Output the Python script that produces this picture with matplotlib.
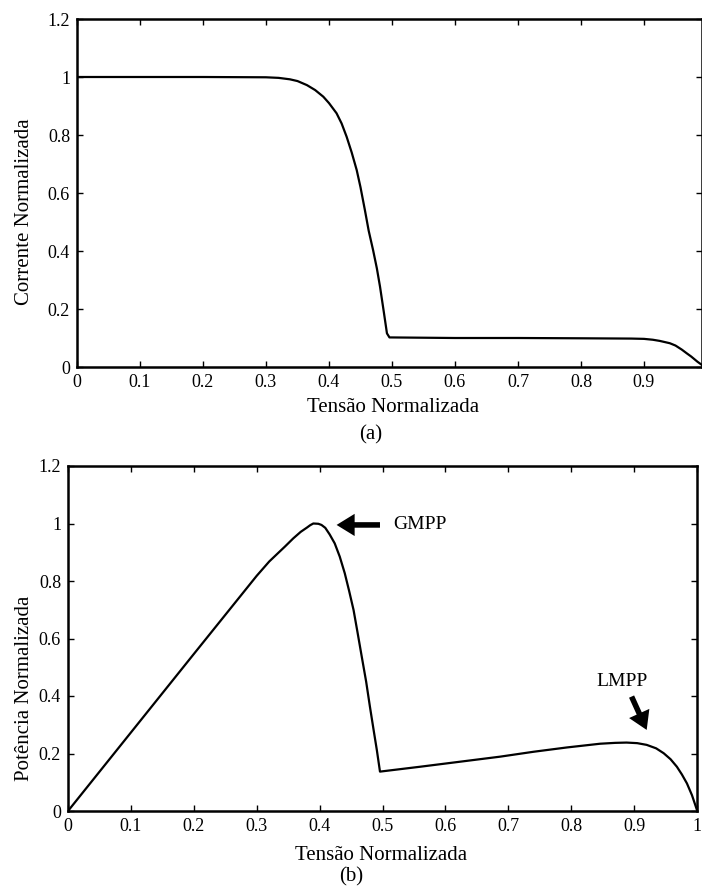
import matplotlib
matplotlib.use('Agg')
import matplotlib.pyplot as plt

plt.rcParams['font.family'] = ['Liberation Serif', 'DejaVu Serif']

# (a) corrente x tensao
tensao_a = [0, 0.1, 0.2, 0.3, 0.32, 0.338, 0.35, 0.365, 0.378, 0.391, 0.40,
            0.412, 0.42, 0.428, 0.436, 0.444, 0.45, 0.457, 0.463, 0.470, 0.476,
            0.481, 0.487, 0.492, 0.496, 0.6, 0.7, 0.8, 0.88, 0.9, 0.914, 0.925,
            0.941, 0.95, 0.96, 0.968, 0.975, 0.985, 0.992, 1.0]
corrente = [1.0, 1.0, 1.0, 0.999, 0.997, 0.992, 0.986, 0.972, 0.955, 0.932, 0.91,
            0.875, 0.84, 0.794, 0.74, 0.679, 0.62, 0.541, 0.47, 0.403, 0.34,
            0.277, 0.19, 0.116, 0.102, 0.1, 0.1, 0.099, 0.098, 0.097, 0.094, 0.09,
            0.082, 0.074, 0.06, 0.047, 0.036, 0.018, 0.007, 0.0]

# (b) potencia x tensao
tensao_b = [0, 0.1, 0.2, 0.3, 0.32, 0.332, 0.345, 0.358, 0.37, 0.380, 0.385,
            0.39, 0.398, 0.403, 0.409, 0.416, 0.424, 0.432, 0.440, 0.447, 0.454,
            0.46, 0.467, 0.474, 0.480, 0.486, 0.491, 0.496, 0.56, 0.687, 0.740,
            0.793, 0.846, 0.87, 0.888, 0.905, 0.920, 0.935, 0.947, 0.958, 0.968,
            0.976, 0.984, 0.992, 1.0]
potencia = [0, 0.273, 0.546, 0.818, 0.868, 0.893, 0.92, 0.948, 0.971, 0.986, 0.994,
            1.0, 0.999, 0.995, 0.985, 0.962, 0.931, 0.885, 0.827, 0.765, 0.699,
            0.625, 0.537, 0.45, 0.363, 0.28, 0.212, 0.137, 0.154, 0.189, 0.206,
            0.221, 0.234, 0.237, 0.238, 0.236, 0.230, 0.218, 0.201, 0.18, 0.154,
            0.127, 0.096, 0.055, 0.003]

yticks = [0, 0.2, 0.4, 0.6, 0.8, 1, 1.2]
ytick_labels = ['0', '0.2', '0.4', '0.6', '0.8', '1', '1.2']
xticks_a = [0, 0.1, 0.2, 0.3, 0.4, 0.5, 0.6, 0.7, 0.8, 0.9]
xticks_b = [0, 0.1, 0.2, 0.3, 0.4, 0.5, 0.6, 0.7, 0.8, 0.9, 1]


def tick_label(v):
    return '0' if v == 0 else ('1' if v == 1 else '%g' % v)


fig = plt.figure(figsize=(7.02, 8.86), dpi=100)
W, H = 702.0, 886.0

ax1 = fig.add_axes([77 / W, (H - 367) / H, 624.5 / W, 348 / H])
ax2 = fig.add_axes([68 / W, (H - 811) / H, 629 / W, 345 / H])

for ax in (ax1, ax2):
    for s in ax.spines.values():
        s.set_linewidth(1.8)
    ax.tick_params(direction='in', length=4, width=1, top=True, right=True,
                   labelsize=13, pad=5)
    ax.set_ylim(0, 1.2)
    ax.set_yticks(yticks)
    ax.set_yticklabels(ytick_labels)

# grafico (a)
ax1.plot(tensao_a, corrente, color='black', lw=1.6, solid_joinstyle='round')
ax1.set_xlim(0, 0.9913)
ax1.set_xticks(xticks_a)
ax1.set_xticklabels([tick_label(v) for v in xticks_a])
ax1.set_xlabel('Tensão Normalizada', fontsize=15, va='center')
ax1.xaxis.set_label_coords(0.506, -40 / 348)
ax1.set_ylabel('Corrente Normalizada', fontsize=15, va='center', ha='center')
ax1.yaxis.set_label_coords(-52 / 624.5, (367 - 212) / 348)
fig.text(371 / W, 1 - 435 / H, '(a)', fontsize=15, ha='center', va='center')

# grafico (b)
ax2.plot(tensao_b, potencia, color='black', lw=1.6, solid_joinstyle='round')
ax2.set_xlim(0, 1)
ax2.set_xticks(xticks_b)
ax2.set_xticklabels([tick_label(v) for v in xticks_b])
ax2.set_xlabel('Tensão Normalizada', fontsize=15, va='center')
ax2.xaxis.set_label_coords(0.498, -44 / 345)
ax2.set_ylabel('Potência Normalizada', fontsize=15, va='center', ha='center')
ax2.yaxis.set_label_coords(-43 / 629, (811 - 688) / 345)
fig.text(351 / W, 1 - 877 / H, '(b)', fontsize=15, ha='center', va='center')

# setas GMPP / LMPP
seta = dict(arrowstyle='simple,head_length=0.65,head_width=0.8,tail_width=0.2',
            lw=0, color='black', shrinkA=0, shrinkB=0, mutation_scale=20)
ax2.annotate('', xy=(0.427, 0.995), xytext=(0.496, 0.995), arrowprops=seta)
ax2.text(0.517, 0.995, 'GMPP', fontsize=14, ha='left', va='center')
ax2.annotate('', xy=(0.920, 0.282), xytext=(0.896, 0.398), arrowprops=seta)
ax2.text(0.88, 0.45, 'LMPP', fontsize=14, ha='center', va='center')

plt.savefig('out.png', dpi=100)
